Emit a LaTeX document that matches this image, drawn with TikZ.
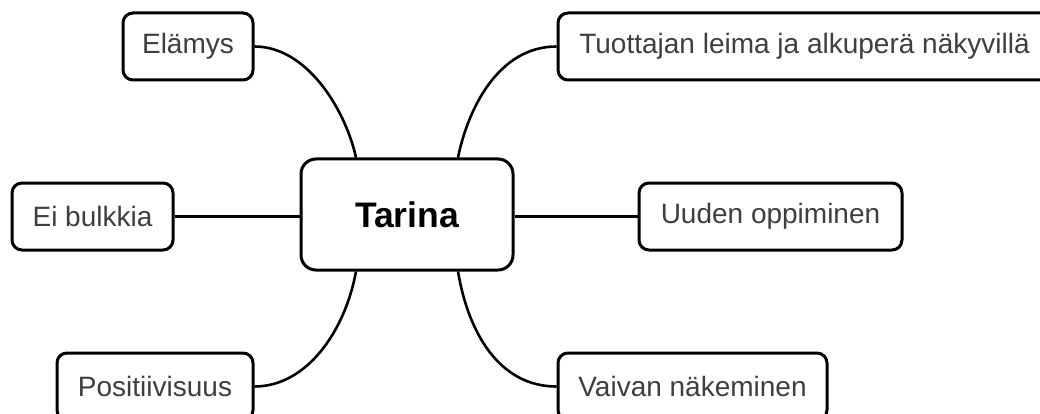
\documentclass[tikz,border=0pt]{standalone}
\usepackage{fontspec}
\setmainfont{Liberation Sans}
\usetikzlibrary{calc}
\definecolor{labelgray}{RGB}{62,62,62}
\begin{document}
\begin{tikzpicture}[x=1pt,y=-1pt,
  topicbox/.style={draw=black, line width=3pt, rounded corners=10pt, fill=white,
    minimum height=67pt, inner sep=0pt, text=labelgray,
    font=\fontsize{28}{32}\selectfont},
  centralbox/.style={draw=black, line width=3pt, rounded corners=15pt, fill=white,
    minimum width=212pt, minimum height=111pt, inner sep=0pt, text=black,
    font=\fontsize{35.5}{40}\selectfont\bfseries},
  link/.style={draw=black, line width=2.6pt}]
\useasboundingbox (0,0) rectangle (1040,414);
\clip (0,0) rectangle (1040,414);
\fill[white] (0,0) rectangle (1040,414);

% central topic and the points where the curved branches leave it
\node[centralbox] (tarina) at (407,214.5) {Tarina};
\coordinate (tl) at ($(tarina.north)+(-51,0)$);
\coordinate (tr) at ($(tarina.north)+(51,0)$);
\coordinate (bl) at ($(tarina.south)+(-51,0)$);
\coordinate (br) at ($(tarina.south)+(51,0)$);

% branch topics
\node[topicbox, minimum width=130pt] (elamys) at (188,46.5) {Elämys};
\node[topicbox, minimum width=493pt] (tuottaja) at (804.5,46.5) {Tuottajan leima ja alkuperä näkyvillä};
\node[topicbox, minimum width=161pt] (bulkki) at (92.5,216.5) {Ei bulkkia};
\node[topicbox, minimum width=263pt] (oppiminen) at (770.5,216.5) {Uuden oppiminen};
\node[topicbox, minimum width=196pt] (positiivisuus) at (155,386.5) {Positiivisuus};
\node[topicbox, minimum width=269pt] (vaiva) at (692.5,386.5) {Vaivan näkeminen};

% connectors
\draw[link] (elamys.east) .. controls ($(elamys.east)+(52,0)$) and ($(tl)+(-11,-49)$) .. (tl);
\draw[link] (tuottaja.west) .. controls ($(tuottaja.west)+(-58,0)$) and ($(tr)+(10,-49)$) .. (tr);
\draw[link] (bulkki.east) -- (bulkki.east -| tarina.west);
\draw[link] (tarina.east |- oppiminen.west) -- (oppiminen.west);
\draw[link] (bl) .. controls ($(bl)+(-11,60)$) and ($(positiivisuus.east)+(52,0)$) .. (positiivisuus.east);
\draw[link] (br) .. controls ($(br)+(10,60)$) and ($(vaiva.west)+(-58,0)$) .. (vaiva.west);
\end{tikzpicture}
\end{document}
